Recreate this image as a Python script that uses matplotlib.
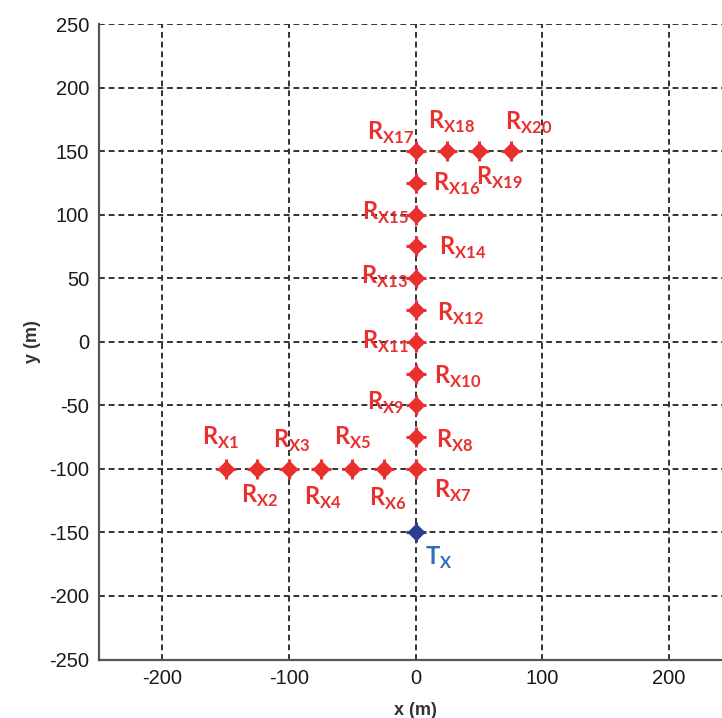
import matplotlib
matplotlib.use("Agg")
import matplotlib.pyplot as plt

# Receiver positions (m)
rx_names = ["X1", "X2", "X3", "X4", "X5", "X6", "X7", "X8", "X9", "X10",
            "X11", "X12", "X13", "X14", "X15", "X16", "X17", "X18", "X19", "X20"]
rx_x = [-150, -125, -100, -75, -50, -25, 0, 0, 0, 0,
        0, 0, 0, 0, 0, 0, 0, 25, 50, 75]
rx_y = [-100, -100, -100, -100, -100, -100, -100, -75, -50, -25,
        0, 25, 50, 75, 100, 125, 150, 150, 150, 150]
# Transmitter position (m)
tx_x = [0]
tx_y = [-150]

# label offsets from each marker (data units)
rx_label_dx = [-4, 1.5, 2, 2, 0, 3, 29, 31, -24, 33,
               -24, 35, -25, 37, -24, 32, -20, 3, 16, 14]
rx_label_dy = [24, -21, 22, -23, 24, -24, -17, -3, 2, -3,
               0, -3, 1, -1, 1, -1, 14, 23, -21, 22]
tx_label_d = (18, -20)

xticks = [-200, -100, 0, 100, 200]
yticks = [-250, -200, -150, -100, -50, 0, 50, 100, 150, 200, 250]

RED = "#e8312f"
BLUE_M = "#2b3f92"
BLUE_T = "#2f6fb8"

plt.rcParams["mathtext.fontset"] = "custom"
plt.rcParams["mathtext.bf"] = "Lato:bold"
plt.rcParams["mathtext.rm"] = "Lato:bold"
plt.rcParams["axes.unicode_minus"] = False

fig = plt.figure(figsize=(7.22, 7.18), dpi=100)
ax = fig.add_axes([99 / 722, (718 - 659.5) / 718, 633.4 / 722, 635.5 / 718])
ax.set_xlim(-250, 250)
ax.set_ylim(-250, 250)

ax.set_xticks(xticks)
ax.set_yticks(yticks)
ax.grid(True, color="#333333", linestyle=(0, (3, 2)), linewidth=1.4)
ax.set_axisbelow(True)
for s in ["top", "right"]:
    ax.spines[s].set_visible(False)
for s in ["left", "bottom"]:
    ax.spines[s].set_color("#555555")
    ax.spines[s].set_linewidth(1.6)
ax.tick_params(direction="in", length=0, labelsize=14.5, labelcolor="#1a1a1a",
               pad=7)
for lab in ax.get_xticklabels() + ax.get_yticklabels():
    lab.set_fontfamily("Liberation Sans")

ax.set_xlabel("x (m)", fontsize=13, fontweight="bold", family="Liberation Sans",
              color="#333333", labelpad=10)
ax.set_ylabel("y (m)", fontsize=13, fontweight="bold", family="Liberation Sans",
              color="#333333", labelpad=6)

# markers
ax.plot(rx_x, rx_y, linestyle="none", marker="+", markersize=15, mew=2.2,
        color=RED, zorder=3)
ax.plot(rx_x, rx_y, linestyle="none", marker="D", markersize=8,
        color=RED, mec=RED, zorder=4)
ax.plot(tx_x, tx_y, linestyle="none", marker="+", markersize=15, mew=2.2,
        color=BLUE_M, zorder=3)
ax.plot(tx_x, tx_y, linestyle="none", marker="D", markersize=8,
        color=BLUE_M, mec=BLUE_M, zorder=4)

for n, x, y, dx, dy in zip(rx_names, rx_x, rx_y, rx_label_dx, rx_label_dy):
    ax.text(x + dx, y + dy, r"$\mathbf{R}_{\mathbf{%s}}$" % n, color=RED,
            fontsize=17, ha="center", va="center", zorder=5)
ax.text(tx_x[0] + tx_label_d[0], tx_y[0] + tx_label_d[1], r"$\mathbf{T}_{\mathbf{X}}$",
        color=BLUE_T, fontsize=17, ha="center", va="center", zorder=5)

fig.savefig("out.png", dpi=100)
